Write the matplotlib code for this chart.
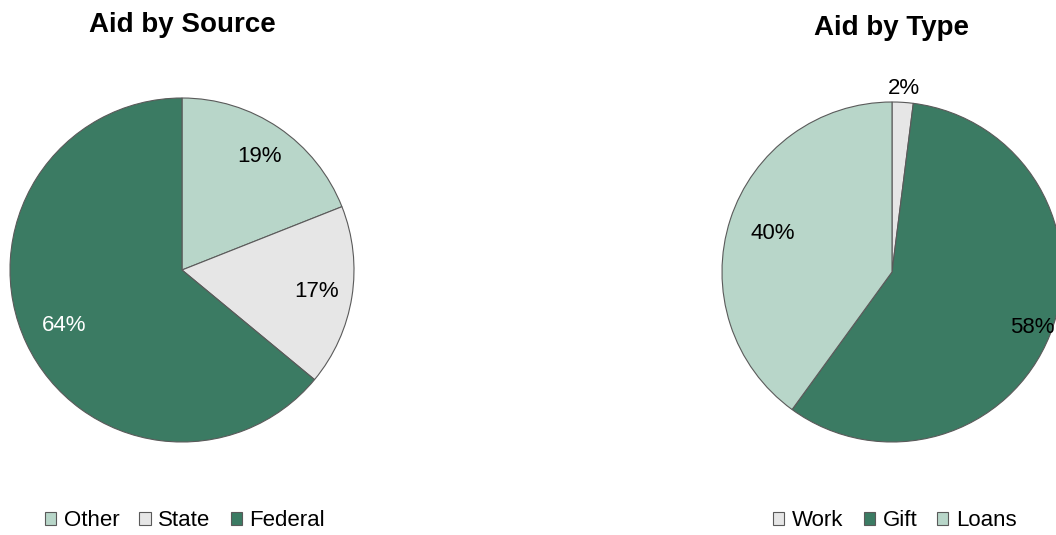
import numpy as np
import matplotlib.pyplot as plt

plt.rcParams['font.family'] = ['Liberation Sans', 'DejaVu Sans']

source_labels = ["Other", "State", "Federal"]
source_values = [19, 17, 64]
type_labels = ["Work", "Gift", "Loans"]
type_values = [2, 58, 40]

light_green = "#b8d6c9"
light_grey = "#e6e6e6"
dark_green = "#3b7b63"
source_colors = [light_green, light_grey, dark_green]
type_colors = [light_grey, dark_green, light_green]

W, H = 1056, 535
fig = plt.figure(figsize=(W / 100, H / 100), dpi=100)


def px_axes(cx, cy, r):
    # square axes around a pie center given in pixels (y from top)
    return fig.add_axes([(cx - r) / W, (H - cy - r) / H, 2 * r / W, 2 * r / H])


def draw_pie(ax, values, colors, label_dist, label_colors):
    wedges, _ = ax.pie(values, colors=colors, startangle=90, counterclock=False,
                       radius=1.0,
                       wedgeprops=dict(edgecolor="#5a5a5a", linewidth=0.8))
    for w, v, d, c in zip(wedges, values, label_dist, label_colors):
        ang = np.deg2rad((w.theta1 + w.theta2) / 2)
        ax.text(d * np.cos(ang), d * np.sin(ang), f"{v}%", ha="center", va="center",
                fontsize=16, color=c, clip_on=False)
    ax.set_xlim(-1, 1)
    ax.set_ylim(-1, 1)
    ax.set_aspect("equal")
    ax.axis("off")
    return wedges


ax1 = px_axes(182, 270, 172)
w1 = draw_pie(ax1, source_values, source_colors, [0.80, 0.79, 0.76],
              ["black", "black", "white"])

ax2 = px_axes(892, 272, 170)
w2 = draw_pie(ax2, type_values, type_colors, [1.08, 0.89, 0.74],
              ["black", "black", "black"])

fig.text(182 / W, 1 - 32 / H, "Aid by Source", ha="center", va="baseline",
         fontsize=20, fontweight="bold")
fig.text(892 / W, 1 - 35 / H, "Aid by Type", ha="center", va="baseline",
         fontsize=20, fontweight="bold")

leg_kw = dict(ncol=3, frameon=False, fontsize=16, handlelength=0.5,
              handleheight=0.5, handletextpad=0.35, columnspacing=0.9,
              loc="center")
fig.legend(w1, source_labels, bbox_to_anchor=(185 / W, 1 - 521 / H), **leg_kw)
fig.legend(w2, type_labels, bbox_to_anchor=(895 / W, 1 - 521 / H), **leg_kw)

fig.savefig("out.png", dpi=100)
